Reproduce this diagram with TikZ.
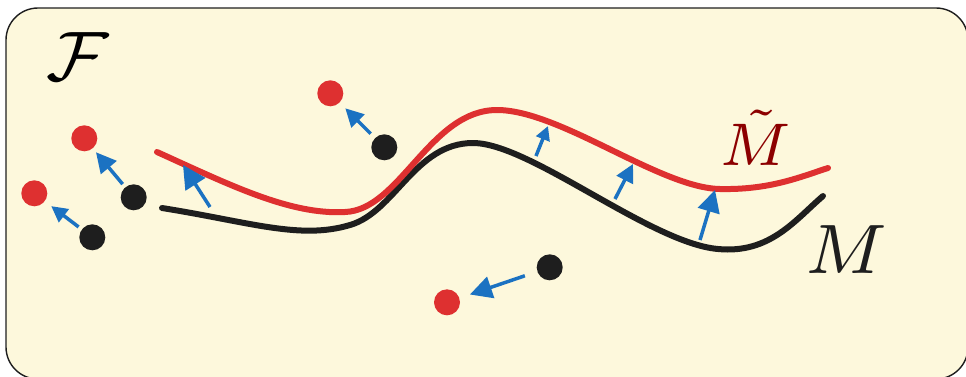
\documentclass[tikz,border=0pt]{standalone}
\usetikzlibrary{arrows.meta}
\definecolor{cream}{RGB}{253,248,220}
\definecolor{myred}{RGB}{222,48,48}
\definecolor{myblack}{RGB}{30,30,30}
\definecolor{myblue}{RGB}{27,114,194}
\definecolor{labred}{RGB}{140,0,0}
\tikzset{
  reddot/.style={circle,fill=myred,draw=none,inner sep=0pt,minimum size=26pt},
  blackdot/.style={circle,fill=myblack,draw=none,inner sep=0pt,minimum size=26pt},
  move/.style={draw=myblue,line width=3.5pt,-{Triangle[length=#1,width=#1]}},
  curveM/.style={draw=myblack,line width=6pt,line cap=round},
  curveMt/.style={draw=myred,line width=6pt,line cap=round},
}
\begin{document}
\begin{tikzpicture}[x=1pt,y=-1pt]
\useasboundingbox (0,0) rectangle (966,376);
\draw[fill=cream,draw=myblack,line width=1.4pt,rounded corners=32pt] (6,8) rectangle (968,379);
\node[scale=10] (F) at (78,57) {$\scriptstyle\mathcal{F}$};
% curves
\draw[curveM] (162,208) .. controls (250,222) and (300,240) .. (350,225)
  .. controls (395,212) and (415,143) .. (473,143)
  .. controls (530,143) and (650,243) .. (718,249)
  .. controls (770,254) and (795,220) .. (823,196);
\draw[curveMt] (157,152) .. controls (230,185) and (290,215) .. (345,212)
  .. controls (400,210) and (430,110) .. (497,110)
  .. controls (560,110) and (660,188) .. (720,189)
  .. controls (770,190) and (800,177) .. (828,168);
\node[scale=8.6,text=labred] (Mt) at (756,138) {$\scriptstyle\tilde{M}$};
\node[scale=10,text=myblack] (M) at (846,250) {$\scriptstyle M$};
% dots
\node[reddot] (r1) at (84.3,138.3) {};
\node[blackdot] (b1) at (133.7,197.3) {};
\node[reddot] (r2) at (34.3,193.3) {};
\node[blackdot] (b2) at (92.3,237.3) {};
\node[reddot] (r3) at (330.3,93.3) {};
\node[blackdot] (b3) at (384.3,147.3) {};
\node[reddot] (r4) at (447,302.3) {};
\node[blackdot] (b4) at (549.7,267.3) {};
% dot arrows
\draw[move=20pt,shorten <=4pt,shorten >=5pt] (b1) -- (r1);
\draw[move=16pt,shorten <=4pt,shorten >=8pt] (b2) -- (r2);
\draw[move=18pt,shorten <=6pt,shorten >=8pt] (b3) -- (r3);
\draw[move=22pt,shorten <=13pt,shorten >=11pt] (b4) -- (r4);
% curve arrows
\coordinate (s5) at (210,207); \coordinate (t5) at (183,165);
\coordinate (s6) at (536,156); \coordinate (t6) at (548,126);
\coordinate (s7) at (700,240); \coordinate (t7) at (715,190);
\coordinate (s8) at (615,199); \coordinate (t8) at (633,164);
\draw[move=23pt] (s5) -- (t5);
\draw[move=14pt] (s6) -- (t6);
\draw[move=22pt] (s7) -- (t7);
\draw[move=18pt] (s8) -- (t8);
\end{tikzpicture}
\end{document}
